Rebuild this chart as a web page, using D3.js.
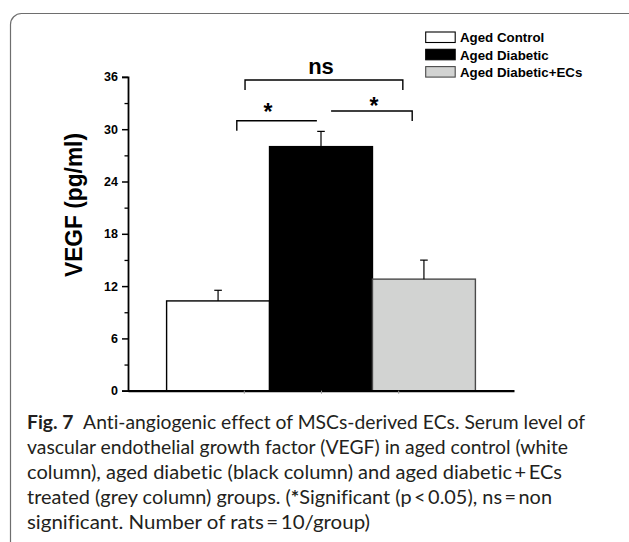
<!DOCTYPE html>
<html>
<head>
<meta charset="utf-8">
<script src="https://cdn.jsdelivr.net/npm/d3@7/dist/d3.min.js"></script>
<style>
  html, body { margin: 0; padding: 0; background: #fff; }
  svg { display: block; }
</style>
</head>
<body>
<svg id="chart" width="629" height="542"></svg>
<script>
// ---- data ----
const categories = ["Aged Control", "Aged Diabetic", "Aged Diabetic+ECs"];
const barPositions = [1, 2, 3];
const values = [10.3, 28.0, 12.8];
const errors = [1.22, 1.75, 2.18];
const yTicks = [0, 6, 12, 18, 24, 30, 36];
const yMinorTicks = [3, 9, 15, 21, 27, 33];
const xMinorTicks = [1.25, 2, 2.75];
const yLabel = "VEGF (pg/ml)";
// significance comparisons (x in axis units, y in value units)
const sigLabels = ["ns", "*", "*"];
const sigX1 = [1.262, 1.182, 2.098];
const sigX2 = [2.795, 1.96, 2.886];
const sigY = [35.64, 30.97, 32.09];
const sigTextX = [2.0, 1.485, 2.515];
const sigTextY = [36.31, 31.09, 31.78];
const sigLeftTick = [true, true, false];
const sigRightTick = [true, false, true];
const captionBold = "Fig. 7";
const captionLines = [
  "Anti-angiogenic effect of MSCs-derived ECs. Serum level of",
  "vascular endothelial growth factor (VEGF) in aged control (white",
  "column), aged diabetic (black column) and aged diabetic\u2009+\u2009ECs",
  "treated (grey column) groups. (|*|Significant (p\u2009<\u20090.05), ns\u2009=\u2009non",
  "significant. Number of rats\u2009=\u200910/group)"
];

// ---- styles ----
const fills = ["#ffffff", "#000000", "#d2d3d2"];
const strokes = ["#000000", "#000000", "#4a4a4a"];

const svg = d3.select("#chart");

// frame
svg.append("rect")
  .attr("x", 10.5).attr("y", 13.5)
  .attr("width", 660).attr("height", 600)
  .attr("rx", 11).attr("ry", 11)
  .attr("fill", "none").attr("stroke", "#6e6e6e").attr("stroke-width", 1.2);

const x = d3.scaleLinear().domain([0.125, 3.875]).range([128, 514]);
const y = d3.scaleLinear().domain([0, 36]).range([390.7, 76.9]);

// bars
svg.append("g").selectAll("rect").data(values).join("rect")
  .attr("x", (d, i) => x(barPositions[i] - 0.5))
  .attr("y", d => y(d))
  .attr("width", x(1.5) - x(0.5))
  .attr("height", d => y(0) - y(d))
  .attr("fill", (d, i) => fills[i])
  .attr("stroke", (d, i) => strokes[i])
  .attr("stroke-width", 1.4);

// error bars (upper only)
const eg = svg.append("g").attr("stroke", "#000").attr("stroke-width", 1.2);
values.forEach((v, i) => {
  const cx = x(barPositions[i]);
  eg.append("line").attr("x1", cx).attr("x2", cx)
    .attr("y1", y(v)).attr("y2", y(v + errors[i]));
  eg.append("line").attr("x1", cx - 3.8).attr("x2", cx + 3.8)
    .attr("y1", y(v + errors[i])).attr("y2", y(v + errors[i]));
});

// y axis
const yAxis = d3.axisLeft(y).tickValues(yTicks).tickSize(6).tickPadding(4).tickFormat(d3.format("d"));
const ya = svg.append("g").attr("transform", "translate(128,0)").call(yAxis);
ya.select(".domain").attr("stroke", "#000").attr("stroke-width", 1.8);
ya.selectAll(".tick line").attr("stroke", "#000").attr("stroke-width", 1.5);
ya.selectAll(".tick text")
  .attr("font-family", "Liberation Sans, Arial, sans-serif")
  .attr("font-weight", "bold").attr("font-size", "12.5px").attr("fill", "#000");
const yMinor = d3.axisLeft(y).tickValues(yMinorTicks).tickSize(3.5).tickFormat("");
const ym = svg.append("g").attr("transform", "translate(128,0)").call(yMinor);
ym.select(".domain").remove();
ym.selectAll(".tick line").attr("stroke", "#000").attr("stroke-width", 1.3);

// x axis
const xAxis = d3.axisBottom(x).tickValues(xMinorTicks).tickSize(3).tickFormat("").tickSizeOuter(0);
const xa = svg.append("g").attr("transform", `translate(0,${y(0)})`).call(xAxis);
xa.select(".domain").attr("stroke", "#000").attr("stroke-width", 2.2);
xa.selectAll(".tick line").attr("stroke", "#999").attr("stroke-width", 1);

// y label
svg.append("text")
  .attr("transform", "translate(82,205) rotate(-90)")
  .attr("text-anchor", "middle")
  .attr("font-family", "Liberation Sans, Arial, sans-serif")
  .attr("font-weight", "bold").attr("font-size", "23.5px").attr("fill", "#000")
  .attr("textLength", 144).attr("lengthAdjust", "spacingAndGlyphs")
  .text(yLabel);

// significance brackets
const sg = svg.append("g");
sigLabels.forEach((lab, i) => {
  const x1 = x(sigX1[i]), x2 = x(sigX2[i]), yy = y(sigY[i]);
  const drop = 10;
  let p = "";
  p += sigLeftTick[i] ? `M${x1},${yy + drop}L${x1},${yy}` : `M${x1},${yy}`;
  p += `L${x2},${yy}`;
  if (sigRightTick[i]) p += `L${x2},${yy + drop}`;
  sg.append("path").attr("d", p).attr("fill", "none")
    .attr("stroke", "#000").attr("stroke-width", 1.4);
  const isNs = lab === "ns";
  sg.append("text")
    .attr("x", x(sigTextX[i]))
    .attr("y", y(sigTextY[i]))
    .attr("text-anchor", "middle")
    .attr("font-family", "Liberation Sans, Arial, sans-serif")
    .attr("font-weight", "bold")
    .attr("font-size", isNs ? "22px" : "23px")
    .attr("fill", "#000")
    .text(lab);
});

// legend
const lg = svg.append("g");
categories.forEach((c, i) => {
  const yy = 32 + i * 17.3;
  lg.append("rect").attr("x", 425.7).attr("y", yy)
    .attr("width", 29.5).attr("height", 10.5)
    .attr("fill", fills[i]).attr("stroke", strokes[i]).attr("stroke-width", 1.1);
  lg.append("text").attr("x", 460).attr("y", yy + 10.3)
    .attr("font-family", "Liberation Sans, Arial, sans-serif")
    .attr("font-weight", "bold").attr("font-size", "13.3px").attr("fill", "#000")
    .text(c);
});

// caption
const capFont = "Lato, 'Open Sans', sans-serif";
const capTargets = [558, 541, 535, 525, 343];
const cg = svg.append("g").attr("fill", "#231f20")
  .attr("font-family", capFont).attr("font-size", "18.5px")
  .style("font-variant-ligatures", "none");
captionLines.forEach((line, i) => {
  const t = cg.append("text").attr("x", 27).attr("y", 428.5 + i * 25);
  if (i === 0) {
    t.append("tspan").attr("font-weight", "bold").text(captionBold);
    t.append("tspan").text("\u2002" + line);
  } else if (line.includes("|")) {
    const parts = line.split("|");
    t.append("tspan").text(parts[0]);
    t.append("tspan").attr("font-weight", "bold").text(parts[1]);
    t.append("tspan").text(parts[2]);
  } else {
    t.text(line);
  }
  t.attr("textLength", capTargets[i]).attr("lengthAdjust", "spacingAndGlyphs");
});
</script>
</body>
</html>
